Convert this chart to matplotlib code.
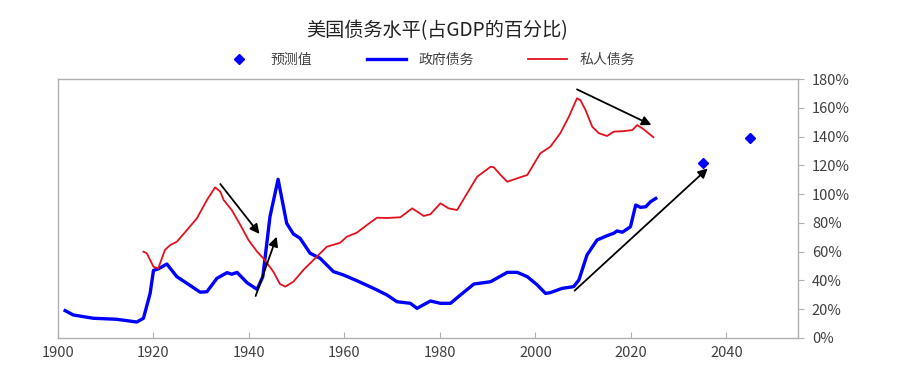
import numpy as np
import matplotlib
matplotlib.use('Agg')
import matplotlib.pyplot as plt

plt.rcParams['font.family'] = ['Noto Sans CJK SC', 'DejaVu Sans']

# government debt (% of GDP)
gov_years = [1901.5, 1903.2, 1907.4, 1912.3, 1916.5, 1917.9, 1919.3, 1920, 1921, 1922.8,
             1924.9, 1927, 1929.8, 1931.2, 1933.3, 1935.4, 1936.4, 1937.5, 1939.6, 1941.7,
             1942.9, 1944.4, 1946.1, 1947.9, 1949.3, 1950.7, 1952.8, 1954.9, 1957.7, 1959.8,
             1962.6, 1966.1, 1968.9, 1971, 1973.8, 1975.2, 1978, 1980.1, 1982.2, 1984.3,
             1987.1, 1990.6, 1994.1, 1996.2, 1998.3, 2000.4, 2002.1, 2003.1, 2005.6, 2008,
             2009.1, 2010.8, 2012.9, 2015, 2016.4, 2017.1, 2018.2, 2019.9, 2021, 2022,
             2023.1, 2024.1, 2025.2]
gov_debt = [19.0, 16, 13.7, 13, 11.1, 13.7, 31, 47, 48, 51.4,
            42.6, 38, 31.8, 32.2, 41.5, 45.4, 44.3, 45.6, 38.4, 33.8,
            42.6, 84.3, 110.3, 79.7, 72.3, 69.3, 58.9, 55.4, 46.1, 43.8,
            39.8, 34.5, 29.9, 25.2, 24.1, 20.6, 25.7, 24.1, 24.1, 29.9,
            37.5, 39.1, 45.6, 45.6, 42.6, 36.8, 31, 31.5, 34.5, 35.7,
            40.3, 57.7, 68.1, 71.1, 72.8, 74.4, 73.5, 77.3, 92.4, 90.8,
            91.2, 94.7, 97]

# private debt (% of GDP)
priv_years = [1917.9, 1918.6, 1920, 1921, 1922.4, 1923.5, 1924.9, 1927, 1929.1, 1931.2,
              1932.9, 1934, 1934.7, 1936.4, 1938.2, 1939.9, 1941.7, 1943, 1945.1, 1946.5,
              1947.6, 1949.3, 1951.4, 1954.2, 1956.3, 1959.1, 1960.5, 1962.6, 1964.7, 1966.8,
              1968.9, 1971.7, 1974.2, 1976.6, 1978, 1980.1, 1981.8, 1983.6, 1985.7, 1987.8,
              1990.6, 1991.3, 1992.7, 1994.1, 1996.2, 1998.3, 2001, 2003.1, 2005.2, 2007,
              2008.7, 2009.4, 2010.5, 2011.9, 2013.3, 2015, 2016.4, 2018.5, 2020.3, 2021.3,
              2022.7, 2024.7]
priv_debt = [60, 58.9, 49.5, 48.4, 61.2, 64.6, 66.9, 75, 83.2, 95.9,
             104.7, 101.7, 95.9, 88.9, 78.5, 68.1, 60, 55.4, 46.1, 37.5,
             35.7, 39.1, 47.3, 56.5, 63.4, 66.2, 70.4, 73.2, 78.5, 83.6,
             83.4, 83.9, 90.1, 84.8, 86, 93.6, 90.1, 88.9, 100.6, 112.1,
             119, 118.6, 113.3, 108.6, 111, 113.3, 128.3, 132.9, 142.3, 153.8,
             166.6, 165.4, 158.4, 146.8, 142.3, 140.4, 143.4, 143.8, 144.5, 148,
             145, 139.5]

# forecast points
fc_years = [2035, 2045]
fc_vals = [121.8, 139]

# arrows (start year, start val, end year, end val)
arrows = [(1934, 107, 1942.2, 72.3),
          (1941.4, 29.2, 1945.8, 70.4),
          (2008.7, 172.8, 2024.3, 148),
          (2008.2, 32.9, 2036.1, 117.9)]

fig = plt.figure(figsize=(8.99, 3.86), dpi=100)
ax = fig.add_axes([0.0645, 0.1244, 0.8232, 0.6709])

ax.plot(fc_years, fc_vals, 'D', color='#0000FF', markersize=5, label='预测值', linestyle='none')
ax.plot(gov_years, gov_debt, color='#0000FF', lw=2.4, label='政府债务')
ax.plot(priv_years, priv_debt, color='#E3101E', lw=1.3, label='私人债务')

for x0, y0, x1, y1 in arrows:
    ax.annotate('', xy=(x1, y1), xytext=(x0, y0),
                arrowprops=dict(arrowstyle='-|>', color='black', lw=1.3,
                                mutation_scale=14, shrinkA=0, shrinkB=0))

ax.set_xlim(1900, 2055)
ax.set_ylim(0, 180)
ax.set_xticks(np.arange(1900, 2041, 20))
ax.set_yticks(np.arange(0, 181, 20))
ax.set_yticklabels([f'{v}%' for v in range(0, 181, 20)])
ax.yaxis.tick_right()
ax.tick_params(axis='y', direction='out', length=4, color='#b0b0b0', labelsize=10.5,
               labelcolor='#404040', pad=6)
ax.tick_params(axis='x', direction='in', length=4, color='#b0b0b0', labelsize=10.5,
               labelcolor='#404040', pad=6)
for s in ax.spines.values():
    s.set_color('#b0b0b0')
    s.set_linewidth(1.0)

fig.text(0.486, 0.92, '美国债务水平(占GDP的百分比)', ha='center', va='center',
         fontsize=13.8, color='#222222')

leg = fig.legend(loc='center', bbox_to_anchor=(0.475, 0.845), ncol=3, frameon=False,
                 fontsize=10, columnspacing=3.9, handlelength=2.8, handletextpad=0.9)
for t in leg.get_texts():
    t.set_color('#404040')

fig.savefig('out.png', dpi=100)
